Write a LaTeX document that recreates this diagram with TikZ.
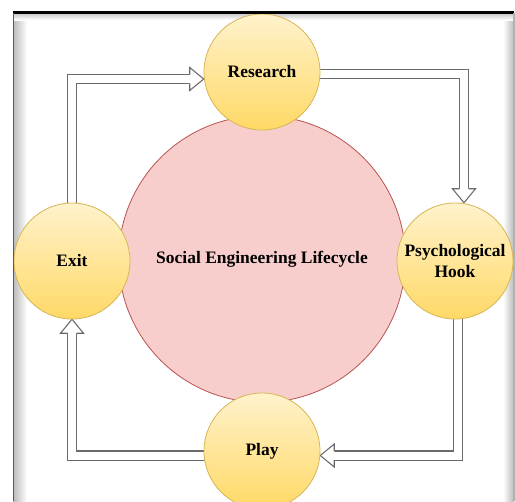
\documentclass[tikz,border=0pt]{standalone}
\usepackage{fontspec}
\setmainfont{Liberation Serif}
\usetikzlibrary{calc}
\definecolor{ringfill}{HTML}{FFF2CC}
\definecolor{ringgrad}{HTML}{FFD966}
\definecolor{ringline}{HTML}{D6B656}
\definecolor{corefill}{HTML}{F8CECC}
\definecolor{coreline}{HTML}{B85450}
\definecolor{pipe}{HTML}{6A6A6A}

% hollow arrow head: tip at #1, pointing in direction #2 (degrees)
\newcommand{\hollowhead}[2]{%
  \fill[white, shift={#1}, rotate=#2] (-14,11.5) -- (0,0) -- (-14,-11.5) -- cycle;
  \draw[pipe, line width=0.8pt, line join=miter, shift={#1}, rotate=#2]
    (-14,4.5) -- (-14,11.5) -- (0,0) -- (-14,-11.5) -- (-14,-4.5);}

\begin{document}
\begin{tikzpicture}[x=0.75pt, y=-0.75pt,
  stage/.style={circle, minimum size=87pt, inner sep=0pt,
    top color=ringfill, bottom color=ringgrad, draw=ringline, line width=0.6pt,
    font=\fontsize{13.1}{15.8}\selectfont\bfseries, align=center},
  core/.style={circle, minimum size=215pt, inner sep=0pt,
    fill=corefill, draw=coreline, line width=0.6pt,
    font=\fontsize{13.1}{15.8}\selectfont\bfseries},
  shaft/.style={draw=pipe, line width=0.8pt, double=white,
    double distance=6pt, line join=miter}]

\useasboundingbox (0,0) rectangle (515,501);
\clip (0,0) rectangle (515,501);
\fill[white] (0,0) rectangle (515,501);

% window frame shadow
\shade[left color=gray!55, right color=white] (13,12) rectangle (27,501);
\shade[left color=white, right color=gray!55] (503,12) rectangle (514,501);
\shade[top color=gray!45, bottom color=white] (13,13) rectangle (514,20);

% corners of the cycle arrows
\coordinate (k1) at (464,74);
\coordinate (k2) at (458,455.5);
\coordinate (k3) at (72,455.5);
\coordinate (k4) at (72,79);

% central circle and stage circles positions
\coordinate (pres) at (262,72);
\coordinate (ppsy) at (455,261);
\coordinate (pplay) at (262,451);
\coordinate (pexit) at (72,261);

% invisible anchors for routing
\node[circle, minimum size=87pt, inner sep=0pt] (res) at (pres) {};
\node[circle, minimum size=87pt, inner sep=0pt] (psy) at (ppsy) {};
\node[circle, minimum size=87pt, inner sep=0pt] (play) at (pplay) {};
\node[circle, minimum size=87pt, inner sep=0pt] (exit) at (pexit) {};

% arrows: Research -> Psychological Hook
\draw[shaft] (res.center |- k1) -- (k1) -- ($(k1 |- psy.north)+(0,-14)$);
\hollowhead{(k1 |- psy.north)}{-90}
% Psychological Hook -> Play
\draw[shaft] (psy.center -| k2) -- (k2) -- ($(play.east |- k2)+(14,0)$);
\hollowhead{(play.east |- k2)}{180}
% Play -> Exit
\draw[shaft] (play.center |- k3) -- (k3) -- ($(exit.south)+(0,14)$);
\hollowhead{(exit.south)}{90}
% Exit -> Research
\draw[shaft] (exit.center) -- (k4) -- ($(res.west |- k4)+(-14,0)$);
\hollowhead{(res.west |- k4)}{0}

% circles
\node[core] (core) at (262,259) {Social Engineering Lifecycle};
\node[stage] (resC) at (pres) {Research};
\node[stage] (psyC) at (ppsy) {Psychological\\Hook};
\node[stage] (playC) at (pplay) {Play};
\node[stage] (exitC) at (pexit) {Exit};

% frame edges
\fill[black] (13,11) rectangle (514,13.5);
\fill[gray!70!black] (12.5,13) rectangle (14,501);
\fill[gray!60] (513,13) rectangle (515,501);
\end{tikzpicture}
\end{document}
